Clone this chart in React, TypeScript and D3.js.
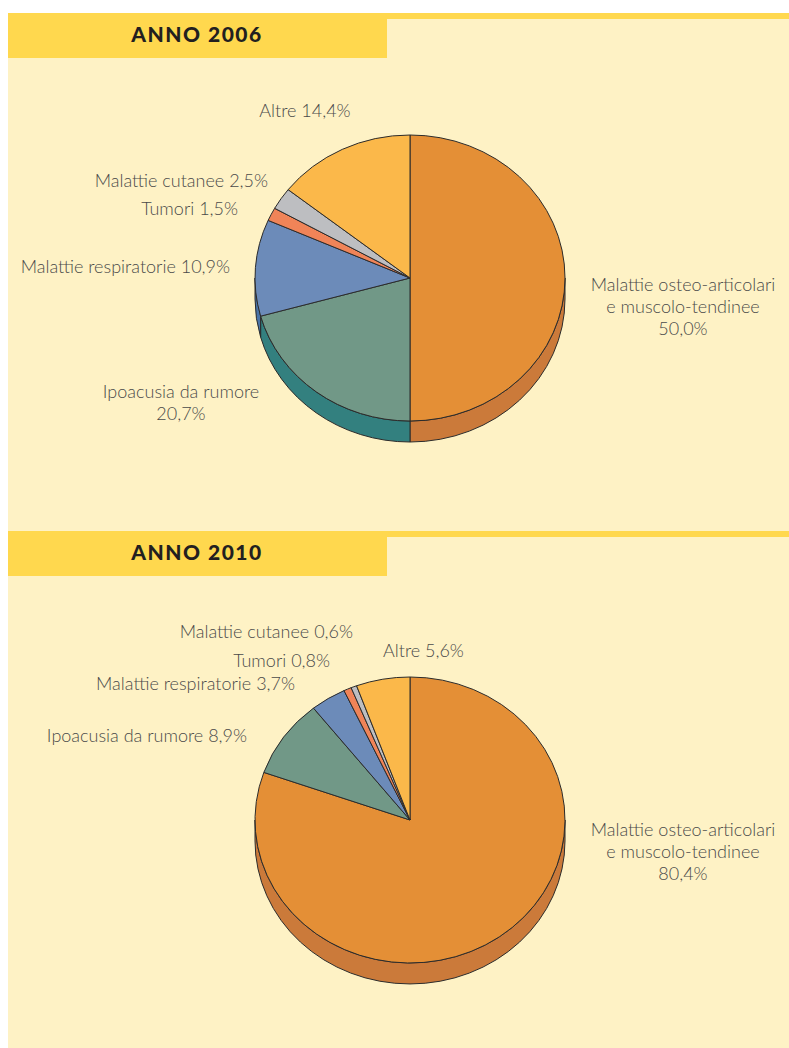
import * as d3 from 'd3'
import React from 'react'

// dati
const categories = [
  ['Malattie osteo-articolari', 'e muscolo-tendinee'],
  ['Ipoacusia da rumore'],
  ['Malattie respiratorie'],
  ['Tumori'],
  ['Malattie cutanee'],
  ['Altre'],
]
const years = ['2006', '2010']
const values2006 = [50.0, 20.7, 10.9, 1.5, 2.5, 14.4]
const values2010 = [80.4, 8.9, 3.7, 0.8, 0.6, 5.6]

const topColors = ['#E48F36', '#719887', '#6C8BB9', '#F08458', '#BDBEC1', '#FBB84A']
const sideColors = ['#CB7A3A', '#33807F', '#4A74A8', '#D0683F', '#9FA0A3', '#D99A3A']

const W = 789, H = 1048
const PALE = '#FEF2C5', YELLOW = '#FFD84E', INK = '#2b2b2b', TXT = '#4a4a4a'
const FONT = "'Lato', 'Noto Sans', 'DejaVu Sans', sans-serif"

const it = d3.formatLocale({ decimal: ',', thousands: '.', grouping: [3], currency: ['', '€'] })
const pct = (v: number) => it.format('.1f')(v) + '%'

// posizioni etichette: [x, y, anchor, percentuale su riga a parte]
type Lbl = [number, number, string, boolean]
const labels2006: Lbl[] = [
  [683, 291, 'middle', true],
  [181, 398, 'middle', true],
  [230, 273, 'end', false],
  [238, 215, 'end', false],
  [268, 187, 'end', false],
  [305, 117, 'middle', false],
]
const labels2010: Lbl[] = [
  [683, 836, 'middle', true],
  [247, 742, 'end', false],
  [295, 690, 'end', false],
  [330, 667, 'end', false],
  [353, 638, 'end', false],
  [383, 657, 'start', false],
]

interface PieProps {
  values: number[]
  labels: Lbl[]
  cx: number
  cy: number
  rx: number
  ry: number
  depth: number
}

const Pie3D = ({ values, labels, cx, cy, rx, ry, depth }: PieProps) => {
  const
    slices = d3.pie<number>().sort(null).value(d => d)(values),
    arc = d3.arc<d3.PieArcDatum<number>>().innerRadius(0).outerRadius(rx),
    pt = (a: number, dy = 0) => `${cx + rx * Math.sin(a)},${cy - ry * Math.cos(a) + dy}`,
    sides = slices.map((s, i) => {
      const a0 = Math.max(s.startAngle, Math.PI / 2), a1 = Math.min(s.endAngle, 3 * Math.PI / 2)
      if (a1 <= a0) return null
      const d = `M${pt(a0)}A${rx},${ry} 0 0 1 ${pt(a1)}L${pt(a1, depth)}A${rx},${ry} 0 0 0 ${pt(a0, depth)}Z`
      return <path key={i} d={d} fill={sideColors[i]} stroke={INK} strokeWidth={1} strokeLinejoin='round' />
    })

  return (
    <g>
      {sides}
      <g transform={`translate(${cx},${cy}) scale(1,${ry / rx})`}>
        {slices.map((s, i) =>
          <path key={i} d={arc(s) as string} fill={topColors[i]} stroke={INK} strokeWidth={1}
            vectorEffect='non-scaling-stroke' strokeLinejoin='round' />)}
      </g>
      {labels.map(([x, y, anchor, stacked], i) => {
        const lines = stacked
          ? [...categories[i], pct(values[i])]
          : [categories[i].join(' ') + ' ' + pct(values[i])]
        return (
          <text key={i} x={x} y={y} textAnchor={anchor as any} fontFamily={FONT} fontWeight={300}
            fontSize={18} fill={TXT}>
            {lines.map((l, j) => <tspan key={j} x={x} dy={j === 0 ? 0 : 22}>{l}</tspan>)}
          </text>
        )
      })}
    </g>
  )
}

const Panel = ({ y0, y1, year }: { y0: number, y1: number, year: string }) => (
  <g>
    <rect x={8} y={y0} width={W - 8} height={y1 - y0} fill={PALE} />
    <rect x={8} y={y0} width={W - 8} height={6} fill={YELLOW} />
    <rect x={8} y={y0} width={379} height={45} fill={YELLOW} />
    <text x={197} y={y0 + 29} textAnchor='middle' fontFamily={FONT} fontWeight={900} fontSize={21}
      letterSpacing={1.5} fill='#231F20'>ANNO {year}</text>
  </g>
)

export default function App() {
  return (
    <svg width={W} height={H} style={{ position: 'absolute', left: 0, top: 0, display: 'block' }}>
      <rect width={W} height={H} fill='#fff' />
      <Panel y0={13} y1={531} year={years[0]} />
      <Panel y0={531} y1={H} year={years[1]} />
      <Pie3D values={values2006} labels={labels2006} cx={410} cy={278} rx={155} ry={143} depth={21} />
      <Pie3D values={values2010} labels={labels2010} cx={410} cy={820} rx={155} ry={143} depth={21} />
    </svg>
  )
}
